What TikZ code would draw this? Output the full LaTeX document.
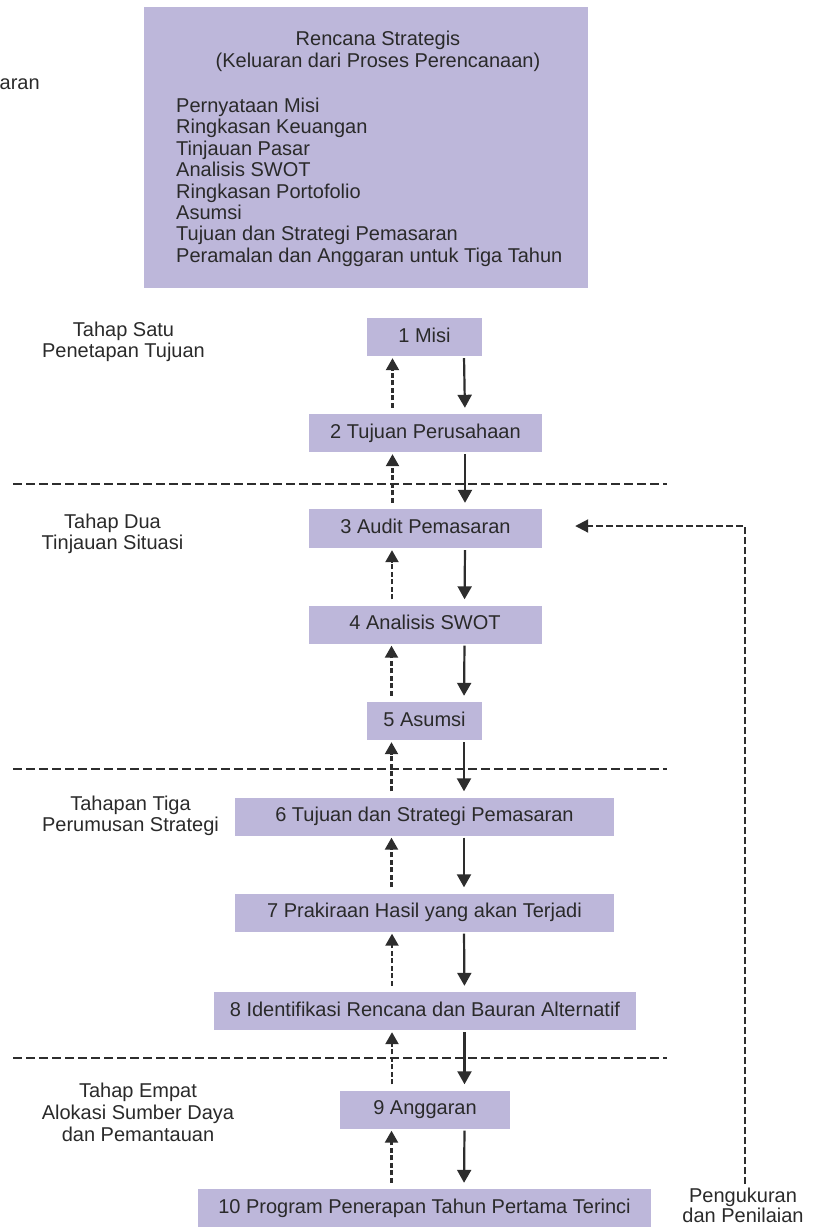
\documentclass[tikz,border=0pt]{standalone}
\usepackage{fontspec}
\setmainfont{Liberation Sans}
\usetikzlibrary{arrows.meta}
\definecolor{boxfill}{RGB}{189,183,218}
\definecolor{ink}{RGB}{42,42,42}
\definecolor{linec}{RGB}{45,45,45}

\begin{document}
\begin{tikzpicture}[x=1pt,y=-1pt,
  every node/.style={font=\fontsize{20}{21.4}\selectfont, text=ink, inner sep=0pt},
  stage/.style={fill=boxfill, minimum height=38pt, text height=14.5pt, text depth=4pt},
  flowdown/.style={draw=linec, line width=2.2pt, -{Triangle[length=13pt,width=14pt]},
                   shorten <=2pt, shorten >=6pt},
  flowup/.style={draw=linec, line width=2.2pt, dash pattern=on 5pt off 2.5pt,
                 -{Triangle[length=12pt,width=13pt]}, shorten <=6pt, shorten >=2pt},
  phaseline/.style={draw=linec, line width=2.4pt, dash pattern=on 9pt off 4pt},
  feedback/.style={draw=linec, line width=2pt, dash pattern=on 7pt off 3pt,
                   -{Triangle[length=13pt,width=13pt]}},
  phase/.style={align=center, anchor=north}
]
\useasboundingbox (0,0) rectangle (820,1227);

% cut-off word at the left edge
\node[anchor=base west] (cut) at (-0.5,89) {aran};

% strategic plan summary
\node[fill=boxfill, minimum width=444pt, minimum height=281pt] (plan) at (366,147.5) {};
\node[align=center, anchor=north] (plantitle) at (378,30.5)
  {Rencana Strategis\\[0.6pt](Keluaran dari Proses Perencanaan)};
\node[align=left, anchor=north west] (planlist) at (176,97.8)
  {Pernyataan Misi\\Ringkasan Keuangan\\Tinjauan Pasar\\Analisis SWOT\\
   Ringkasan Portofolio\\Asumsi\\Tujuan dan Strategi Pemasaran\\
   Peramalan dan Anggaran untuk Tiga Tahun};

% process steps
\node[stage, minimum width=115pt] (b1) at (424.5,337) {1 Misi};
\node[stage, minimum width=233pt] (b2) at (425.5,433) {2 Tujuan Perusahaan};
\node[stage, minimum width=233pt, minimum height=39pt] (b3) at (425.5,528.5) {3 Audit Pemasaran};
\node[stage, minimum width=233pt] (b4) at (425,624.5) {4 Analisis SWOT};
\node[stage, minimum width=115pt] (b5) at (424.5,721) {5 Asumsi};
\node[stage, minimum width=379pt] (b6) at (424.5,816.5) {6 Tujuan dan Strategi Pemasaran};
\node[stage, minimum width=379pt] (b7) at (424.5,912.5) {7 Prakiraan Hasil yang akan Terjadi};
\node[stage, minimum width=422pt] (b8) at (425,1011) {8 Identifikasi Rencana dan Bauran Alternatif};
\node[stage, minimum width=170pt] (b9) at (425,1109.5) {9 Anggaran};
\node[stage, minimum width=453pt] (b10) at (424.5,1208) {10 Program Penerapan Tahun Pertama Terinci};

% phase separators
\draw[phaseline] (13,484) -- (667,484);
\draw[phaseline] (13,769) -- (667,769);
\draw[phaseline] (13,1058) -- (667,1058);

% phase labels
\node[phase] (p1) at (123.5,321.5) {Tahap Satu\\Penetapan Tujuan};
\node[phase] (p2) at (112.5,513.5) {Tahap Dua\\Tinjauan Situasi};
\node[phase] (p3) at (130.5,795.5) {Tahapan Tiga\\Perumusan Strategi};
\node[phase] (p4) at (138,1082.5) {Tahap Empat\\[1pt]Alokasi Sumber Daya\\[0.5pt]dan Pemantauan};
\node[phase] (meas) at (743,1188) {Pengukuran\\[-2pt]dan Penilaian};

% forward and backward flow between steps
\foreach \a/\b in {b1/b2,b2/b3,b3/b4,b4/b5,b5/b6,b6/b7,b7/b8,b8/b9,b9/b10}{
  \draw[flowdown] ([xshift=39.5pt]\a.south) -- ([xshift=39.5pt]\b.south |- \b.north);
  \draw[flowup] ([xshift=-33pt]\b.north) -- ([xshift=-33pt]\b.north |- \a.south);
}

% measurement feedback loop
\coordinate (fbstart) at (745,1184);
\draw[feedback] (fbstart) |- ([xshift=33pt,yshift=2.5pt]b3.east);
\end{tikzpicture}
\end{document}
